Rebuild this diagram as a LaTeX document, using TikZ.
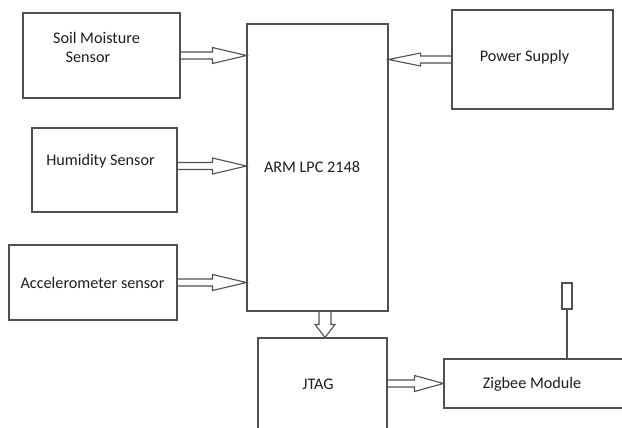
\documentclass[tikz,border=0pt]{standalone}
\usepackage{fontspec}
\setmainfont{Carlito}
\usetikzlibrary{calc}
\definecolor{linec}{HTML}{505050}
\definecolor{textc}{HTML}{1E1E1E}
\tikzset{
  blk/.style={draw=linec, line width=1.1bp, minimum width=#1, inner sep=0pt},
  lbl/.style={text=textc, inner sep=0pt, font=\fontsize{16.2bp}{19bp}\selectfont},
  barrow/.style={draw=linec, line width=1.1bp, line join=miter},
}
% #1 start, #2 tip, #3 head length, #4 shaft half width, #5 head half width
\newcommand\blockarrow[5]{%
  \coordinate (hb) at ($(#2)!#3!(#1)$);
  \draw[barrow] ($(#1)!#4!90:(#2)$) -- ($(hb)!#4!90:(#2)$) -- ($(hb)!#5!90:(#2)$)
     -- (#2) -- ($(hb)!#5!-90:(#2)$) -- ($(hb)!#4!-90:(#2)$) -- ($(#1)!#4!-90:(#2)$);
}
\begin{document}
\begin{tikzpicture}[x=1bp,y=-1bp]
\useasboundingbox (0,0) rectangle (622,427);
\fill[white] (0,0) rectangle (622,427);
% boxes
\node[blk=157bp, minimum height=85bp] (soil) at (101.5,55.5) {};
\node[blk=145bp, minimum height=84bp] (hum) at (104.5,170) {};
\node[blk=168bp, minimum height=75bp] (acc) at (93,282.5) {};
\node[blk=141bp, minimum height=287bp] (arm) at (317.5,167.5) {};
\node[blk=161bp, minimum height=99bp] (pwr) at (532.5,59.5) {};
\node[blk=129bp, minimum height=94bp] (jtag) at (322.5,385) {};
\node[blk=182bp, minimum height=49bp] (zig) at (535,383.5) {};
\node[blk=10bp, minimum height=26bp] (ant) at (567,296) {};
% labels
\node[lbl] (t1) at (96.5,38) {Soil Moisture};
\node[lbl] (t2) at (88,57) {Sensor};
\node[lbl] (t3) at (100.5,161) {Humidity Sensor};
\node[lbl] (t4) at (92.5,283) {Accelerometer sensor};
\node[lbl] (t5) at (312,167) {ARM LPC 2148};
\node[lbl] (t6) at (524.5,57) {Power Supply};
\node[lbl] (t7) at (318,384) {JTAG};
\node[lbl] (t8) at (532,384) {Zigbee Module};
% antenna stem
\draw[draw=linec, line width=1.1bp] (ant.south) -- (ant.south |- zig.north);
% arrows
\coordinate (a1) at (soil.east);
\coordinate (b1) at (soil.east -| arm.west);
\blockarrow{a1}{b1}{34bp}{3.5bp}{8bp}
\coordinate (a2) at ($(hum.east)+(0,-4)$);
\coordinate (b2) at (a2 -| arm.west);
\blockarrow{a2}{b2}{34bp}{3.5bp}{8bp}
\coordinate (a3) at (acc.east);
\coordinate (b3) at (acc.east -| arm.west);
\blockarrow{a3}{b3}{34bp}{3.5bp}{8bp}
\coordinate (a4) at (pwr.west);
\coordinate (b4) at (pwr.west -| arm.east);
\blockarrow{a4}{b4}{32bp}{3.5bp}{6.5bp}
\coordinate (b5) at ($(jtag.north)+(2.5,0)$);
\coordinate (a5) at (b5 |- arm.south);
\blockarrow{a5}{b5}{13bp}{6bp}{10bp}
\coordinate (a6) at (jtag.east |- zig.west);
\coordinate (b6) at (zig.west);
\blockarrow{a6}{b6}{29bp}{3.5bp}{8bp}
\end{tikzpicture}
\end{document}
